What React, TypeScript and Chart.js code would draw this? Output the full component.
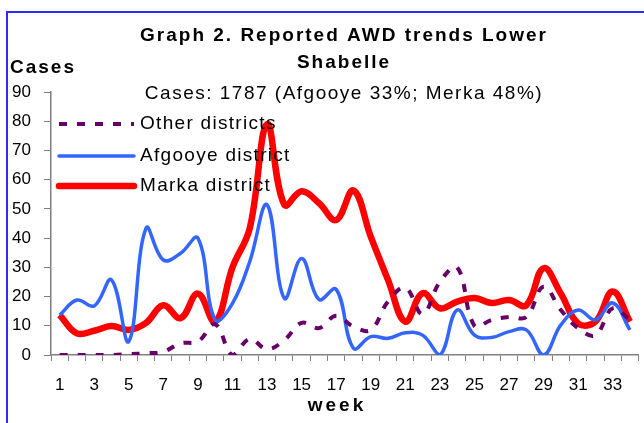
import { useEffect, useRef } from "react";
import { Chart, registerables } from "chart.js";

Chart.register(...registerables);

const weeks = ["1","2","3","4","5","6","7","8","9","10","11","12","13","14","15","16","17","18","19","20","21","22","23","24","25","26","27","28","29","30","31","32","33","34"];

const otherDistricts = [0, 0, 0, 0, 0.3, 0.6, 1.1, 4, 4.6, 10.5, 0, 5.5, 2, 5.1, 11, 9.2, 13.4, 9.7, 8.6, 18.3, 23, 14, 25, 30, 10, 12, 13, 13, 23.4, 15.4, 9.2, 6.8, 16, 12];
const afgooye = [13.7, 18.8, 16.8, 25.7, 4.6, 43.4, 32.5, 34.8, 40, 12, 17.7, 32, 51.4, 19.4, 33, 19, 22.5, 2.3, 6.3, 5.7, 7.6, 6.8, 0, 15.4, 6.8, 6, 8, 8.6, 0, 10.3, 15.4, 12, 17.8, 8.6];
const marka = [13.7, 7.4, 8.3, 9.9, 8.6, 11, 17, 12.6, 21, 11.4, 30, 43.4, 79, 51.4, 56, 52, 46.2, 56.3, 40.5, 25.7, 11.4, 21.1, 16, 18.3, 19.5, 17.8, 18.8, 17, 29.7, 21, 10.8, 11.4, 21.7, 11.4];

const seriesNames = ["Other districts", "Afgooye district", "Marka district"];
const titleLines = ["Graph 2. Reported AWD trends Lower", "Shabelle"];
const subtitleText = "Cases: 1787 (Afgooye 33%; Merka 48%)";
const yAxisTitle = "Cases";
const xAxisTitle = "week";

const FONT = '"Liberation Sans", Arial, sans-serif';
const PURPLE = "#660066";
const BLUE = "#3366ff";
const RED = "#ff0000";

const framePlugin = {
  id: "frame",
  beforeDraw(chart: any) {
    const ctx = chart.ctx;
    ctx.save();
    ctx.fillStyle = "#ffffff";
    ctx.fillRect(0, 0, chart.width, chart.height);
    ctx.strokeStyle = "#2b2bff";
    ctx.lineWidth = 2;
    ctx.beginPath();
    ctx.moveTo(7, chart.height + 5);
    ctx.lineTo(7, 12);
    ctx.lineTo(chart.width + 5, 12);
    ctx.stroke();
    ctx.restore();
  },
};

const textPlugin = {
  id: "texts",
  afterDatasetsDraw(chart: any) {
    const ctx = chart.ctx;
    ctx.save();
    ctx.fillStyle = "#000";
    ctx.textBaseline = "middle";
    // title
    ctx.font = `bold 19px ${FONT}`;
    ctx.textAlign = "center";
    (ctx as any).letterSpacing = "2px";
    ctx.fillText(titleLines[0], 344, 36);
    ctx.fillText(titleLines[1], 344, 63);
    // y axis title
    ctx.textAlign = "left";
    ctx.fillText(yAxisTitle, 10, 68);
    // subtitle
    ctx.font = `19px ${FONT}`;
    (ctx as any).letterSpacing = "1.5px";
    ctx.textAlign = "center";
    ctx.fillText(subtitleText, 344, 94);
    // x axis title
    ctx.font = `bold 19px ${FONT}`;
    (ctx as any).letterSpacing = "3px";
    ctx.fillText(xAxisTitle, 337, 406);
    (ctx as any).letterSpacing = "1.3px";
    // legend
    const rows = [124, 156, 186];
    chart.data.datasets.forEach((ds: any, i: number) => {
      const y = rows[i];
      ctx.save();
      ctx.strokeStyle = ds.borderColor;
      ctx.lineWidth = ds.borderWidth;
      ctx.lineCap = "round";
      if (ds.borderDash && ds.borderDash.length) {
        ctx.setLineDash(ds.borderDash);
        ctx.lineCap = "butt";
      }
      ctx.beginPath();
      ctx.moveTo(59, y);
      ctx.lineTo(134, y);
      ctx.stroke();
      ctx.restore();
      ctx.font = `19px ${FONT}`;
      ctx.textAlign = "left";
      ctx.fillStyle = "#000";
      ctx.fillText(ds.label, 140, y);
    });
    ctx.restore();
  },
};

export default function App() {
  const ref = useRef<HTMLCanvasElement>(null);
  useEffect(() => {
    if (!ref.current) return;
    const chart = new Chart(ref.current, {
      type: "line",
      data: {
        labels: weeks,
        datasets: [
          { label: seriesNames[0], data: otherDistricts, borderColor: PURPLE, borderWidth: 4, borderDash: [8, 10], borderCapStyle: "butt", pointRadius: 0, tension: 0.4, fill: false },
          { label: seriesNames[1], data: afgooye, borderColor: BLUE, borderWidth: 3.5, pointRadius: 0, tension: 0.4, fill: false },
          { label: seriesNames[2], data: marka, borderColor: RED, borderWidth: 6.5, pointRadius: 0, tension: 0.4, fill: false },
        ],
      } as any,
      options: {
        animation: false,
        responsive: false,
        maintainAspectRatio: false,
        layout: { padding: { top: 92, left: 0, right: 1, bottom: 0 } },
        plugins: { legend: { display: false }, title: { display: false }, tooltip: { enabled: false } },
        scales: {
          x: {
            type: "category",
            offset: true,
            afterFit: (s: any) => { s.height = 68; },
            grid: { display: true, drawOnChartArea: false, drawTicks: true, tickLength: 6, offset: true, color: "#808080" },
            border: { display: true, color: "#808080", width: 1.5 },
            ticks: {
              autoSkip: false,
              maxRotation: 0,
              minRotation: 0,
              color: "#000",
              padding: 14,
              font: { family: FONT, size: 17 },
              callback: (_v: any, i: number) => (i % 2 === 0 ? weeks[i] : ""),
            },
          },
          y: {
            min: 0,
            max: 90,
            afterFit: (s: any) => { s.width = 51; },
            grid: { display: true, drawOnChartArea: false, drawTicks: true, tickLength: 7, color: "#808080" },
            border: { display: true, color: "#808080", width: 1.5 },
            ticks: { stepSize: 10, color: "#000", padding: 13, font: { family: FONT, size: 17 } },
          },
        },
      } as any,
      plugins: [framePlugin, textPlugin],
    });
    return () => chart.destroy();
  }, []);
  return (
    <div style={{ position: "fixed", left: 0, top: 0, width: 644, height: 423, overflow: "hidden", background: "#fff" }}>
      <canvas ref={ref} width={644} height={423} style={{ display: "block", width: 644, height: 423 }} />
    </div>
  );
}
